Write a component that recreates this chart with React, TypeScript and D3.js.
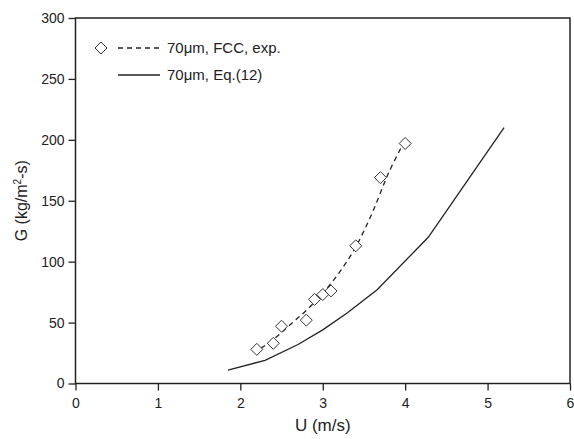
import React, { useEffect, useRef } from 'react';
import * as d3 from 'd3';

// experimental points (FCC, 70 um)
const expU = [2.2, 2.4, 2.5, 2.8, 2.9, 3.0, 3.1, 3.4, 3.7, 4.0];
const expG = [28, 33, 47, 52, 69, 73, 76, 113, 169, 197];

// dashed fit through the experiments
const fitU = [2.25, 2.4, 2.6, 2.8, 3.0, 3.2, 3.4, 3.6, 3.8, 4.0];
const fitG = [29, 36, 48, 60, 74, 91, 112, 140, 173, 200];

// Eq.(12) prediction
const eqU = [1.85, 2.3, 2.7, 3.0, 3.3, 3.66, 4.28, 5.2];
const eqG = [11, 19, 32, 44, 58, 77, 120, 210];

const xTicks = [0, 1, 2, 3, 4, 5, 6];
const yTicks = [0, 50, 100, 150, 200, 250, 300];

const legendLabels = ['70\u03bcm, FCC, exp.', '70\u03bcm, Eq.(12)'];

const App = () => {
  const svgRef = useRef(null);

  useEffect(() => {
    const width = 574;
    const height = 439;
    const left = 75.5, right = 570, top = 18, bottom = 383.5;
    const font = 'Liberation Sans, Arial, sans-serif';
    const ink = '#222';

    const svg = d3.select(svgRef.current);
    svg.selectAll('*').remove();
    svg.attr('width', width).attr('height', height);

    const x = d3.scaleLinear().domain([0, 6]).range([left, right]);
    const y = d3.scaleLinear().domain([0, 300]).range([bottom, top]);

    // frame
    svg.append('rect')
      .attr('x', left).attr('y', top)
      .attr('width', right - left).attr('height', bottom - top)
      .attr('fill', 'none').attr('stroke', ink).attr('stroke-width', 1.5);

    // x axis
    const xAxis = svg.append('g').attr('transform', `translate(0,${bottom})`);
    xAxis.call(d3.axisBottom(x).tickValues(d3.range(0.5, 6, 1)).tickSize(4).tickFormat(() => ''));
    xAxis.call(d3.axisBottom(x).tickValues(xTicks).tickSize(7).tickFormat(d3.format('d')));
    xAxis.selectAll('.domain').remove();
    xAxis.selectAll('line').attr('stroke', ink).attr('stroke-width', 1.3);
    xAxis.selectAll('text').attr('font-family', font).attr('font-size', 14).attr('fill', ink).attr('dy', '1.0em');

    // y axis
    const yAxis = svg.append('g').attr('transform', `translate(${left},0)`);
    yAxis.call(d3.axisLeft(y).tickValues(d3.range(25, 300, 50)).tickSize(4).tickFormat(() => ''));
    yAxis.call(d3.axisLeft(y).tickValues(yTicks).tickSize(7).tickFormat(d3.format('d')));
    yAxis.selectAll('.domain').remove();
    yAxis.selectAll('line').attr('stroke', ink).attr('stroke-width', 1.3);
    yAxis.selectAll('text').attr('font-family', font).attr('font-size', 14).attr('fill', ink).attr('x', -11);

    // axis titles
    svg.append('text')
      .attr('x', (left + right) / 2).attr('y', 431)
      .attr('text-anchor', 'middle')
      .attr('font-family', font).attr('font-size', 17).attr('fill', ink)
      .text('U (m/s)');

    const yt = svg.append('text')
      .attr('transform', `translate(27,${(top + bottom) / 2}) rotate(-90)`)
      .attr('text-anchor', 'middle')
      .attr('font-family', font).attr('font-size', 16).attr('fill', ink);
    yt.append('tspan').text('G (kg/m');
    yt.append('tspan').attr('dy', -6).attr('font-size', 10).text('2');
    yt.append('tspan').attr('dy', 6).text('-s)');

    const line = d3.line().x((d) => x(d[0])).y((d) => y(d[1]));

    // Eq.(12) solid line
    svg.append('path')
      .attr('d', line(eqU.map((u, i) => [u, eqG[i]])))
      .attr('fill', 'none').attr('stroke', ink).attr('stroke-width', 1.3);

    // dashed fit
    svg.append('path')
      .attr('d', line.curve(d3.curveCatmullRom)(fitU.map((u, i) => [u, fitG[i]])))
      .attr('fill', 'none').attr('stroke', ink).attr('stroke-width', 1.3)
      .attr('stroke-dasharray', '5,4');

    const diamond = (cx, cy) => `M${cx},${cy - 6}L${cx + 6},${cy}L${cx},${cy + 6}L${cx - 6},${cy}Z`;

    svg.append('g').selectAll('path')
      .data(expU.map((u, i) => [u, expG[i]]))
      .enter()
      .append('path')
      .attr('d', (d) => diamond(x(d[0]), y(d[1])))
      .attr('fill', 'white').attr('stroke', '#333').attr('stroke-width', 1);

    // legend
    const lg = svg.append('g');
    lg.append('path').attr('d', diamond(101, 48)).attr('fill', 'white').attr('stroke', '#333');
    lg.append('line').attr('x1', 118).attr('x2', 160).attr('y1', 48).attr('y2', 48)
      .attr('stroke', ink).attr('stroke-width', 1.3).attr('stroke-dasharray', '5,4');
    lg.append('line').attr('x1', 118).attr('x2', 160).attr('y1', 75).attr('y2', 75)
      .attr('stroke', ink).attr('stroke-width', 1.3);
    lg.selectAll('text')
      .data(legendLabels)
      .enter()
      .append('text')
      .attr('x', 167).attr('y', (d, i) => 53 + i * 27)
      .attr('font-family', font).attr('font-size', 15).attr('fill', ink)
      .text((d) => d);
  }, []);

  return (
    <div style={{ position: 'absolute', left: 0, top: 0 }}>
      <svg ref={svgRef}></svg>
    </div>
  );
};

export default App;
